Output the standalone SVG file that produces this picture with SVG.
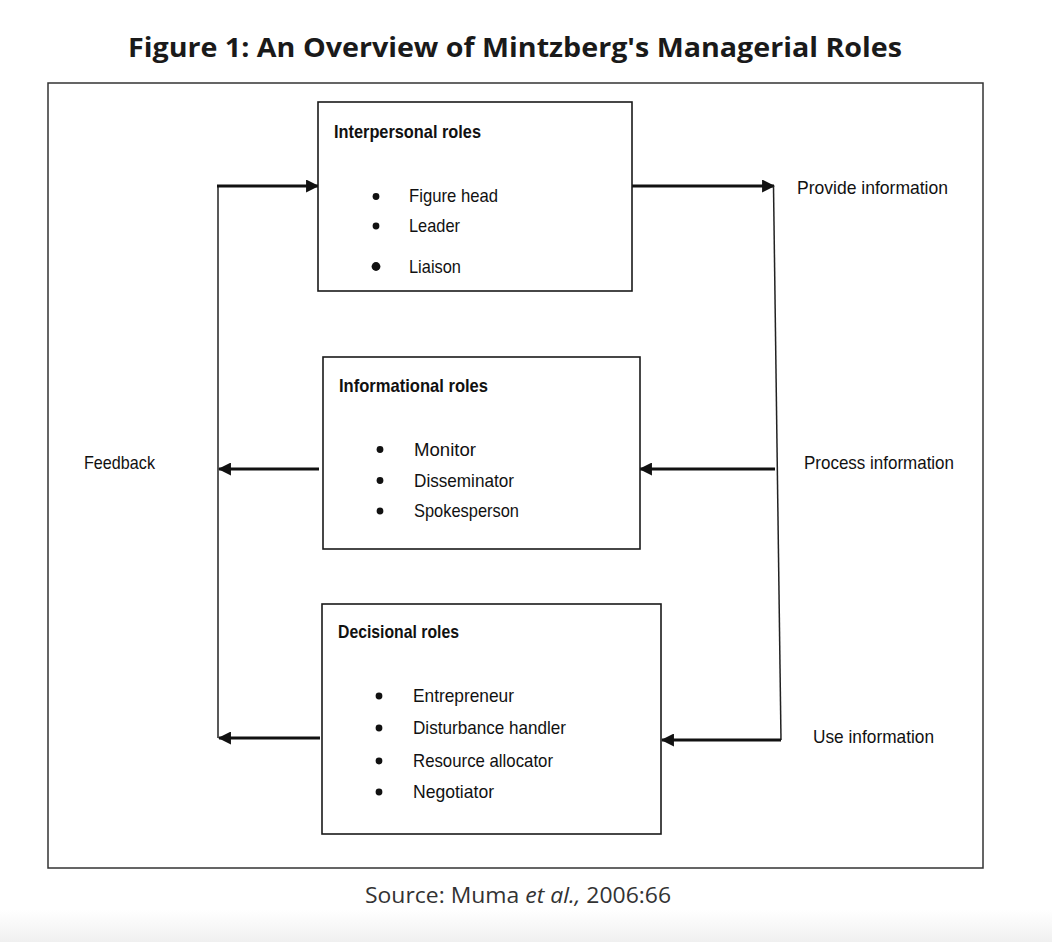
<svg xmlns="http://www.w3.org/2000/svg" width="1052" height="942" viewBox="0 0 1052 942">
  <style>
    .title { font-family: "Open Sans", "Liberation Sans", sans-serif; font-weight: 700; font-size: 26.5px; fill: #1a1a1a; }
    .source { font-family: "Open Sans", "Liberation Sans", sans-serif; font-size: 22px; fill: #333333; }
    .box { fill: #ffffff; stroke: #1a1a1a; stroke-width: 1.6; }
    .frame { fill: #ffffff; stroke: #333333; stroke-width: 1.5; }
    .head { font-family: "Liberation Sans", Arial, sans-serif; font-weight: 700; font-size: 18.5px; fill: #111111; }
    .item { font-family: "Liberation Sans", Arial, sans-serif; font-size: 19px; fill: #111111; }
    .lbl { font-family: "Liberation Sans", Arial, sans-serif; font-size: 19px; fill: #111111; }
    .bullet { fill: #111111; }
    .thick { stroke: #111111; stroke-width: 3; fill: none; }
    .thin { stroke: #222222; stroke-width: 1.5; fill: none; }
  </style>
  <defs>
    <marker id="ah" viewBox="0 0 12 12" refX="11" refY="6" markerWidth="13" markerHeight="13" markerUnits="userSpaceOnUse" orient="auto">
      <path d="M0,0 L12,6 L0,12 z" fill="#111111"/>
    </marker>
    <linearGradient id="bottomfade" x1="0" y1="0" x2="0" y2="1">
      <stop offset="0" stop-color="#ffffff"/>
      <stop offset="1" stop-color="#f0f0f0"/>
    </linearGradient>
  </defs>

  <rect x="0" y="0" width="1052" height="942" fill="#ffffff"/>
  <rect x="0" y="910" width="1052" height="32" fill="url(#bottomfade)"/>

  <text class="title" x="515" y="57" text-anchor="middle" textLength="774" lengthAdjust="spacingAndGlyphs">Figure 1: An Overview of Mintzberg's Managerial Roles</text>

  <rect class="frame" x="48" y="83" width="935" height="785"/>

  <g id="connectors">
    <line class="thin" x1="218" y1="185" x2="218" y2="738"/>
    <line class="thick" x1="217" y1="186" x2="318" y2="186" marker-end="url(#ah)"/>
    <line class="thick" x1="319" y1="469" x2="219" y2="469" marker-end="url(#ah)"/>
    <line class="thick" x1="320" y1="738" x2="219" y2="738" marker-end="url(#ah)"/>
    <line class="thick" x1="632" y1="186" x2="774" y2="186" marker-end="url(#ah)"/>
    <line class="thin" x1="773.5" y1="186" x2="781" y2="740"/>
    <line class="thick" x1="775" y1="469" x2="640" y2="469" marker-end="url(#ah)"/>
    <line class="thick" x1="781" y1="740" x2="662" y2="740" marker-end="url(#ah)"/>
  </g>

  <g id="interpersonal">
    <rect class="box" x="318" y="102" width="314" height="189"/>
    <text class="head" x="334" y="138" textLength="147" lengthAdjust="spacingAndGlyphs">Interpersonal roles</text>
    <circle class="bullet" cx="376" cy="196.5" r="3.4"/>
    <text class="item" x="409" y="202" textLength="89" lengthAdjust="spacingAndGlyphs">Figure head</text>
    <circle class="bullet" cx="376" cy="226" r="3.4"/>
    <text class="item" x="409" y="232" textLength="51" lengthAdjust="spacingAndGlyphs">Leader</text>
    <circle class="bullet" cx="376" cy="266.5" r="4.4"/>
    <text class="item" x="409" y="273" textLength="52" lengthAdjust="spacingAndGlyphs">Liaison</text>
  </g>

  <g id="informational">
    <rect class="box" x="323" y="357" width="317" height="192"/>
    <text class="head" x="339" y="392" textLength="149" lengthAdjust="spacingAndGlyphs">Informational roles</text>
    <circle class="bullet" cx="380" cy="449.5" r="3.4"/>
    <text class="item" x="414" y="456" textLength="62" lengthAdjust="spacingAndGlyphs">Monitor</text>
    <circle class="bullet" cx="380" cy="480.5" r="3.4"/>
    <text class="item" x="414" y="487" textLength="100" lengthAdjust="spacingAndGlyphs">Disseminator</text>
    <circle class="bullet" cx="380" cy="511" r="3.4"/>
    <text class="item" x="414" y="517" textLength="105" lengthAdjust="spacingAndGlyphs">Spokesperson</text>
  </g>

  <g id="decisional">
    <rect class="box" x="322" y="604" width="339" height="230"/>
    <text class="head" x="338" y="638" textLength="121" lengthAdjust="spacingAndGlyphs">Decisional roles</text>
    <circle class="bullet" cx="379" cy="696" r="3.4"/>
    <text class="item" x="413" y="702" textLength="101" lengthAdjust="spacingAndGlyphs">Entrepreneur</text>
    <circle class="bullet" cx="379" cy="728" r="3.4"/>
    <text class="item" x="413" y="734" textLength="153" lengthAdjust="spacingAndGlyphs">Disturbance handler</text>
    <circle class="bullet" cx="379" cy="761" r="3.4"/>
    <text class="item" x="413" y="767" textLength="140" lengthAdjust="spacingAndGlyphs">Resource allocator</text>
    <circle class="bullet" cx="379" cy="792" r="3.4"/>
    <text class="item" x="413" y="798" textLength="81" lengthAdjust="spacingAndGlyphs">Negotiator</text>
  </g>

  <g id="labels">
    <text class="lbl" x="797" y="194" textLength="151" lengthAdjust="spacingAndGlyphs">Provide information</text>
    <text class="lbl" x="804" y="469" textLength="150" lengthAdjust="spacingAndGlyphs">Process information</text>
    <text class="lbl" x="813" y="743" textLength="121" lengthAdjust="spacingAndGlyphs">Use information</text>
    <text class="lbl" x="84" y="469" textLength="71" lengthAdjust="spacingAndGlyphs">Feedback</text>
  </g>

  <text class="source" x="518" y="903" text-anchor="middle" textLength="306" lengthAdjust="spacingAndGlyphs">Source: Muma <tspan font-style="italic">et al.,</tspan> 2006:66</text>
</svg>
